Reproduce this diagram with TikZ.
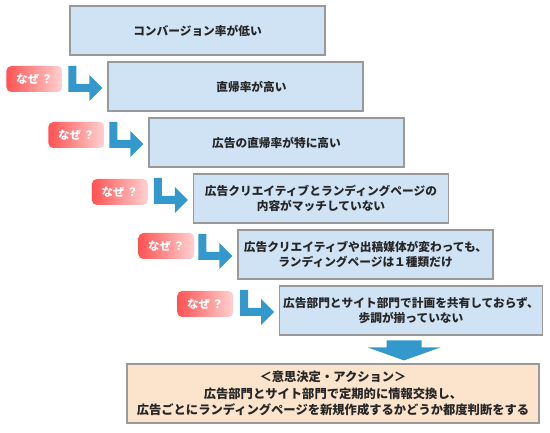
\documentclass[tikz,border=0pt]{standalone}
\usepackage{fontspec}
\setmainfont{Noto Sans CJK JP}
\usepackage{tikz}
\usetikzlibrary{calc, positioning}

\definecolor{boxblue}{HTML}{CFE3F5}
\definecolor{boxline}{HTML}{999999}
\definecolor{arrowblue}{HTML}{3399CC}
\definecolor{peach}{HTML}{FCE4CC}
\definecolor{pillred}{HTML}{FF5252}
\definecolor{pillpink}{HTML}{FFD2D2}

\tikzset{
	cause/.style={draw=boxline, line width=1.2pt, fill=boxblue, minimum width=255pt, minimum height=49pt, align=center, font=\bfseries\fontsize{11.7}{15}\selectfont, text=black!85},
	action/.style={draw=boxline, line width=1.2pt, fill=peach, minimum width=412pt, minimum height=59pt, align=center, font=\bfseries\fontsize{12.3}{16.5}\selectfont, text=black!85},
	why/.style={rounded corners=5pt, left color=pillred, right color=pillpink, minimum width=56pt, minimum height=26pt, inner sep=0pt, text=white, font=\bfseries\fontsize{11.5}{12}\selectfont},
	larrow/.pic={\fill[arrowblue] (0,0)--(-13,-13)--(-13,-4)--(-26,-4)--(-26,-22)--(-34,-22)--(-34,4)--(-13,4)--(-13,13)--cycle;}
}

\begin{document}
\begin{tikzpicture}[x=1pt, y=-1pt]
		\useasboundingbox (0,0) rectangle (550,433);
		% causes, one step down and to the right each time
		\node[cause] (b1) at (197.5,30.5) {コンバージョン率が低い};
		\node[cause] (b2) at (235.5,86.5) {\hspace*{32pt}直帰率が高い};
		\node[cause] (b3) at (276.5,142.5) {広告の直帰率が特に高い};
		\node[cause] (b4) at (321,198.5) {広告クリエイティブとランディングページの\\内容がマッチしていない};
		\node[cause] (b5) at (365.5,254.5) {広告クリエイティブや出稿媒体が変わっても、\\ランディングページは１種類だけ};
		\node[cause] (b6) at (411,310.5) {広告部門とサイト部門で計画を共有しておらず、\\歩調が揃っていない};
		\node[action] (act) at (333,393.5) {＜意思決定・アクション＞\\広告部門とサイト部門で定期的に情報交換し、\\広告ごとにランディングページを新規作成するかどうか都度判断をする};
		% why labels
		\node[why] (w2) at ($(b2.west)+(-73,-7.5)$) {なぜ\,？};
		\node[why] (w3) at ($(b3.west)+(-72,-7.5)$) {なぜ\,？};
		\node[why] (w4) at ($(b4.west)+(-73,-6.5)$) {なぜ\,？};
		\node[why] (w5) at ($(b5.west)+(-71,-8.5)$) {なぜ\,？};
		\node[why] (w6) at ($(b6.west)+(-74,-6.5)$) {なぜ\,？};
		% arrows into each box
		\pic at ($(b2.west)+(-5,1.5)$) {larrow};
		\pic at ($(b3.west)+(-5,1.5)$) {larrow};
		\pic at ($(b4.west)+(-5,1.5)$) {larrow};
		\pic at ($(b5.west)+(-5,1.5)$) {larrow};
		\pic at ($(b6.west)+(-5,1.5)$) {larrow};
		% down to the decision
		\coordinate (d) at ($(act.north)+(71,-3)$);
		\fill[arrowblue] (d)--++(-36.5,-13)--++(19,0)--++(0,-7)--++(35,0)--++(0,7)--++(19,0)--cycle;
	\end{tikzpicture}
\end{document}
